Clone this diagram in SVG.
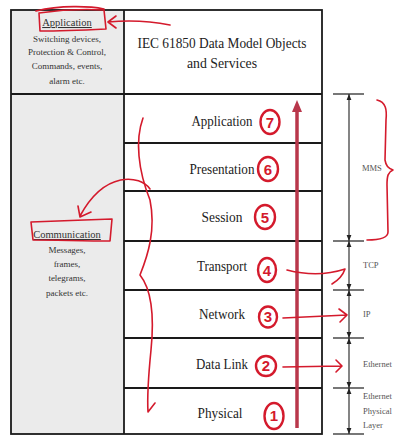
<svg xmlns="http://www.w3.org/2000/svg" width="398" height="442" viewBox="0 0 398 442">
<style>
.t{font-family:"Liberation Serif","Times New Roman",serif;fill:#222}
.lay{font-size:15px;text-anchor:middle}
.sm{font-size:9px;text-anchor:middle;fill:#333}
.hd{font-size:10.5px;text-anchor:middle;text-decoration:underline;fill:#333}
.rl{font-size:8.5px;fill:#555}
.grid{stroke:#1a1a1a;stroke-width:1.8;fill:none}
.dim{stroke:#333;stroke-width:1.2;fill:none}
.tick{stroke:#555;stroke-width:1.6}
.red{stroke:#d41a2c;stroke-width:1.6;fill:none;stroke-linecap:round;stroke-linejoin:round}
.redt{stroke:#d41a2c;stroke-width:2.4;fill:none}
.num{font-family:"Liberation Sans",Arial,sans-serif;font-size:15px;fill:#d41a2c;text-anchor:middle;font-weight:bold}
</style>
<defs>
<marker id="ah" viewBox="0 0 10 10" refX="10" refY="5" markerWidth="6" markerHeight="6" orient="auto-start-reverse" markerUnits="userSpaceOnUse">
<path d="M0,1 L10,5 L0,9 Z" fill="#222"/>
</marker>
</defs>
<rect width="398" height="442" fill="#ffffff"/>
<g id="table">
<rect x="11" y="10" width="113" height="424" fill="#ebebeb"/>
<rect x="11" y="10" width="311" height="424" class="grid"/>
<line x1="124" y1="10" x2="124" y2="434" class="grid"/>
<line x1="11" y1="94" x2="322" y2="94" class="grid"/>
<line x1="124" y1="143" x2="322" y2="143" class="grid"/>
<line x1="124" y1="191" x2="322" y2="191" class="grid"/>
<line x1="124" y1="241" x2="322" y2="241" class="grid"/>
<line x1="124" y1="290" x2="322" y2="290" class="grid"/>
<line x1="124" y1="338" x2="322" y2="338" class="grid"/>
<line x1="124" y1="388" x2="322" y2="388" class="grid"/>
</g>
<g id="title">
<text class="t lay" x="222" y="48" textLength="169" lengthAdjust="spacingAndGlyphs">IEC 61850 Data Model Objects</text>
<text class="t lay" x="222" y="68" textLength="70" lengthAdjust="spacingAndGlyphs">and Services</text>
</g>
<g id="left-app">
<text class="t hd" x="67" y="26">Application</text>
<text class="t sm" x="67" y="42">Switching devices,</text>
<text class="t sm" x="67" y="55">Protection &amp; Control,</text>
<text class="t sm" x="67" y="69">Commands, events,</text>
<text class="t sm" x="67" y="84">alarm etc.</text>
</g>
<g id="left-comm">
<text class="t hd" x="67" y="238">Communication</text>
<text class="t sm" x="67" y="253">Messages,</text>
<text class="t sm" x="67" y="267">frames,</text>
<text class="t sm" x="67" y="281">telegrams,</text>
<text class="t sm" x="67" y="296">packets etc.</text>
</g>
<g id="layers">
<text class="t lay" x="222" y="126" textLength="61" lengthAdjust="spacingAndGlyphs">Application</text>
<text class="t lay" x="222" y="174" textLength="65" lengthAdjust="spacingAndGlyphs">Presentation</text>
<text class="t lay" x="222" y="222" textLength="41" lengthAdjust="spacingAndGlyphs">Session</text>
<text class="t lay" x="222" y="271" textLength="50" lengthAdjust="spacingAndGlyphs">Transport</text>
<text class="t lay" x="222" y="319" textLength="46" lengthAdjust="spacingAndGlyphs">Network</text>
<text class="t lay" x="222" y="369" textLength="52" lengthAdjust="spacingAndGlyphs">Data Link</text>
<text class="t lay" x="220" y="418" textLength="45" lengthAdjust="spacingAndGlyphs">Physical</text>
</g>
<g id="dimensions">
<line x1="333" y1="94" x2="364" y2="94" class="tick"/>
<line x1="333" y1="241" x2="364" y2="241" class="tick"/>
<line x1="333" y1="290" x2="364" y2="290" class="tick"/>
<line x1="333" y1="338" x2="364" y2="338" class="tick"/>
<line x1="333" y1="388" x2="364" y2="388" class="tick"/>
<line x1="333" y1="434" x2="364" y2="434" class="tick"/>
<line x1="349" y1="94" x2="349" y2="241" class="dim" marker-start="url(#ah)" marker-end="url(#ah)"/>
<line x1="349" y1="241" x2="349" y2="290" class="dim" marker-start="url(#ah)" marker-end="url(#ah)"/>
<line x1="349" y1="290" x2="349" y2="338" class="dim" marker-start="url(#ah)" marker-end="url(#ah)"/>
<line x1="349" y1="338" x2="349" y2="388" class="dim" marker-start="url(#ah)" marker-end="url(#ah)"/>
<line x1="349" y1="388" x2="349" y2="434" class="dim" marker-start="url(#ah)" marker-end="url(#ah)"/>
<text class="t rl" x="362" y="171">MMS</text>
<text class="t rl" x="363" y="268">TCP</text>
<text class="t rl" x="363" y="317">IP</text>
<text class="t rl" x="363" y="367">Ethernet</text>
<text class="t rl" x="363" y="399">Ethernet</text>
<text class="t rl" x="363" y="414">Physical</text>
<text class="t rl" x="363" y="428">Layer</text>
</g>
<g id="annotations">
<path d="M297,428 L297,110" stroke="#b9374b" stroke-width="3.5" fill="none"/>
<path d="M292,112 L297,100 L302,112 Z" fill="#b9374b"/>
<ellipse cx="270" cy="122" rx="9.5" ry="12" class="redt"/>
<text class="num" x="270" y="128">7</text>
<ellipse cx="268" cy="169" rx="10" ry="12" class="redt"/>
<text class="num" x="268" y="175">6</text>
<ellipse cx="265" cy="217" rx="10" ry="12" class="redt"/>
<text class="num" x="265" y="223">5</text>
<ellipse cx="267" cy="270" rx="9" ry="12" class="redt"/>
<text class="num" x="267" y="276">4</text>
<ellipse cx="268" cy="317" rx="9" ry="10.5" class="redt"/>
<text class="num" x="268" y="322">3</text>
<ellipse cx="266" cy="366" rx="10" ry="10" class="redt"/>
<text class="num" x="266" y="371">2</text>
<ellipse cx="274" cy="416" rx="9.5" ry="13" class="redt"/>
<text class="num" x="274" y="421">1</text>
<path d="M287,270 Q318,278 345,269 M345,269 Q342,278 332,284" class="red"/>
<path d="M283,318 L347,315 M339,309 L347,315 L340,322" class="red"/>
<path d="M283,367 L341,366 M336,360 L342,366 L336,372" class="red"/>
<path d="M377,100 C386,102 387,110 386,120 L385,160 C386,166 388,168 393,170 C388,172 387,176 387,185 L388,232 C388,238 380,240 367,240" class="red" stroke-width="2"/>
<path d="M39,13 C60,10 85,9 104,10 L106,29 C85,30 60,31 40,31 Z" class="red"/>
<path d="M36,11 C60,5 90,6 104,9" class="red"/>
<path d="M170,25 Q140,19 108,22 M116,16 L108,22 L116,28" class="red"/>
<path d="M31,222 C55,221 85,220 112,219 L110,241 C85,241 55,240 33,240 Z" class="red"/>
<path d="M150,189 C140,175 105,170 80,216 M78,206 L80,217 L91,212" class="red"/>
<path d="M143,118 C135,140 138,170 150,200 C156,230 148,255 140,275 C152,290 154,320 151,350 C148,380 147,395 148,412 L155,403" class="red"/>
</g>
</svg>
